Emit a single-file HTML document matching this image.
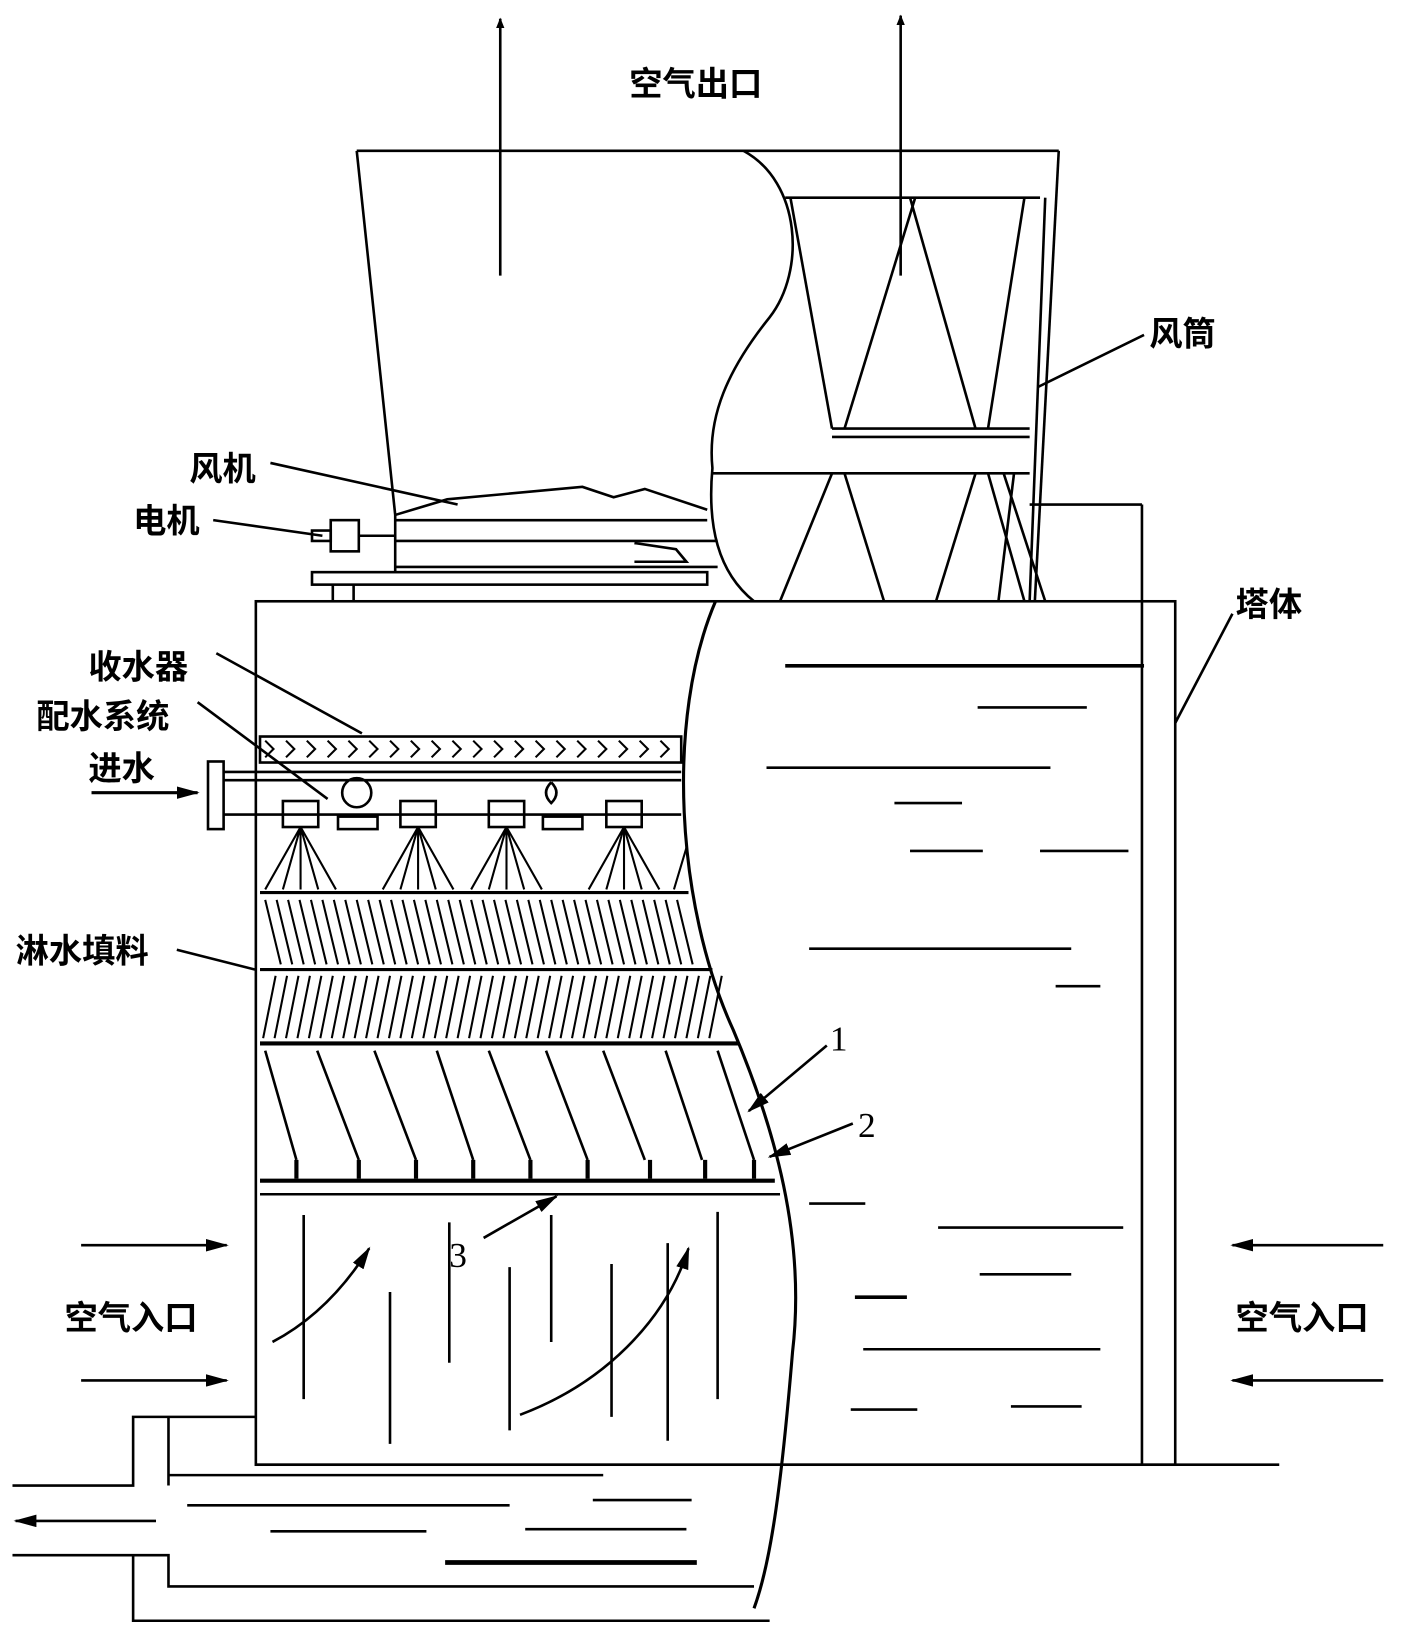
<!DOCTYPE html>
<html><head><meta charset="utf-8">
<style>
html,body{margin:0;padding:0;background:#fff;}
svg{display:block;}
text{font-family:"Liberation Sans","Noto Sans CJK SC",sans-serif;fill:#000;font-weight:bold;}
</style></head>
<body>
<svg width="1403" height="1627" viewBox="0 0 1349 1564" preserveAspectRatio="none" xmlns="http://www.w3.org/2000/svg">
<defs>
<marker id="ah" markerWidth="10" markerHeight="8" refX="9" refY="4" orient="auto" markerUnits="userSpaceOnUse"><path d="M0,0 L10,4 L0,8 Z" fill="#000"/></marker>
<marker id="ab" markerWidth="22" markerHeight="12" refX="20" refY="6" orient="auto" markerUnits="userSpaceOnUse"><path d="M0,0 L22,6 L0,12 Z" fill="#000"/></marker>
</defs>
<g stroke="#000" fill="none" stroke-width="2.5">
<line x1="481" y1="265" x2="481" y2="18" marker-end="url(#ah)"/>
<line x1="866" y1="265" x2="866" y2="15" marker-end="url(#ah)"/>
<line x1="343" y1="145" x2="1018" y2="145"/>
<line x1="343" y1="145" x2="380" y2="495"/>
<line x1="1018" y1="145" x2="995" y2="578"/>
<line x1="1005" y1="190" x2="990" y2="578"/>
<path d="M715,145 C770,175 775,260 740,305 C700,355 680,400 685,450 C680,505 690,550 725,578"/>
<line x1="755" y1="190" x2="1000" y2="190"/>
<line x1="760" y1="190" x2="800" y2="412"/>
<line x1="880" y1="190" x2="812" y2="412"/>
<line x1="875" y1="190" x2="938" y2="412"/>
<line x1="985" y1="190" x2="950" y2="412"/>
<line x1="800" y1="412" x2="990" y2="412"/>
<line x1="800" y1="420" x2="990" y2="420"/>
<line x1="685" y1="455" x2="990" y2="455"/>
<line x1="800" y1="455" x2="750" y2="578"/>
<line x1="812" y1="455" x2="850" y2="578"/>
<line x1="938" y1="455" x2="900" y2="578"/>
<line x1="950" y1="455" x2="985" y2="578"/>
<line x1="965" y1="455" x2="1005" y2="578"/>
<line x1="975" y1="455" x2="960" y2="578"/>
<path d="M380,495 L430,480 L560,468 L590,478 L620,470 L680,490"/>
<line x1="380" y1="500" x2="680" y2="500"/>
<line x1="380" y1="495" x2="380" y2="550"/>
<line x1="380" y1="520" x2="690" y2="520"/>
<line x1="380" y1="545" x2="690" y2="545"/>
<path d="M610,522 L650,528 L660,540 L610,540"/>
<rect x="300" y="550" width="380" height="12"/>
<line x1="320" y1="562" x2="320" y2="578"/>
<line x1="340" y1="562" x2="340" y2="578"/>
<rect x="318" y="500" width="27" height="30"/>
<line x1="345" y1="515" x2="380" y2="515"/>
<rect x="300" y="510" width="18" height="10"/>
<line x1="990" y1="485" x2="1098" y2="485"/>
<rect x="246" y="578" width="884" height="830"/>
<line x1="1098" y1="485" x2="1098" y2="1408"/>
<line x1="246" y1="1408" x2="1230" y2="1408"/>
<path d="M688,578 C640,690 650,870 705,990 C745,1085 775,1190 762,1300 C752,1420 742,1500 725,1546" stroke-width="3"/>
<rect x="250" y="708" width="405" height="25"/>
<path d="M255,712 l8,8 l-8,8 M275,712 l8,8 l-8,8 M295,712 l8,8 l-8,8 M315,712 l8,8 l-8,8 M335,712 l8,8 l-8,8 M355,712 l8,8 l-8,8 M375,712 l8,8 l-8,8 M395,712 l8,8 l-8,8 M415,712 l8,8 l-8,8 M435,712 l8,8 l-8,8 M455,712 l8,8 l-8,8 M475,712 l8,8 l-8,8 M495,712 l8,8 l-8,8 M515,712 l8,8 l-8,8 M535,712 l8,8 l-8,8 M555,712 l8,8 l-8,8 M575,712 l8,8 l-8,8 M595,712 l8,8 l-8,8 M615,712 l8,8 l-8,8 M635,712 l8,8 l-8,8" stroke-width="2"/>
<rect x="200" y="732" width="15" height="65"/>
<line x1="215" y1="742" x2="655" y2="742"/>
<line x1="215" y1="750" x2="655" y2="750"/>
<line x1="215" y1="783" x2="655" y2="783"/>
<line x1="88" y1="762" x2="190" y2="762" marker-end="url(#ab)" stroke-width="3"/>
<circle cx="343" cy="762" r="14"/>
<path d="M530,752 q-10,10 0,20 q10,-10 0,-20"/>
<rect x="272" y="770" width="34" height="25"/><rect x="385" y="770" width="34" height="25"/>
<rect x="470" y="770" width="34" height="25"/><rect x="583" y="770" width="34" height="25"/>
<rect x="325" y="785" width="38" height="12"/><rect x="522" y="785" width="38" height="12"/>
<g stroke-width="2">
<path d="M289,795 L255,855 M289,795 L272,855 M289,795 L289,855 M289,795 L306,855 M289,795 L323,855"/>
<path d="M402,795 L368,855 M402,795 L385,855 M402,795 L402,855 M402,795 L419,855 M402,795 L436,855"/>
<path d="M487,795 L453,855 M487,795 L470,855 M487,795 L487,855 M487,795 L504,855 M487,795 L521,855"/>
<path d="M600,795 L566,855 M600,795 L583,855 M600,795 L600,855 M600,795 L617,855 M600,795 L634,855"/>
<path d="M660,815 L648,855"/>
</g>
<line x1="250" y1="858" x2="662" y2="858" stroke-width="3"/>
<line x1="250" y1="932" x2="685" y2="932" stroke-width="3"/>
<line x1="250" y1="1003" x2="710" y2="1003" stroke-width="4"/>
<path d="M255,865 l15,62 M266,865 l15,62 M277,865 l15,62 M288,865 l15,62 M299,865 l15,62 M310,865 l15,62 M321,865 l15,62 M332,865 l15,62 M343,865 l15,62 M354,865 l15,62 M365,865 l15,62 M376,865 l15,62 M387,865 l15,62 M398,865 l15,62 M409,865 l15,62 M420,865 l15,62 M431,865 l15,62 M442,865 l15,62 M453,865 l15,62 M464,865 l15,62 M475,865 l15,62 M486,865 l15,62 M497,865 l15,62 M508,865 l15,62 M519,865 l15,62 M530,865 l15,62 M541,865 l15,62 M552,865 l15,62 M563,865 l15,62 M574,865 l15,62 M585,865 l15,62 M596,865 l15,62 M607,865 l15,62 M618,865 l15,62 M629,865 l15,62 M640,865 l15,62 M651,865 l15,62" stroke-width="2"/>
<path d="M265,938 l-12,60 M276,938 l-12,60 M287,938 l-12,60 M298,938 l-12,60 M309,938 l-12,60 M320,938 l-12,60 M331,938 l-12,60 M342,938 l-12,60 M353,938 l-12,60 M364,938 l-12,60 M375,938 l-12,60 M386,938 l-12,60 M397,938 l-12,60 M408,938 l-12,60 M419,938 l-12,60 M430,938 l-12,60 M441,938 l-12,60 M452,938 l-12,60 M463,938 l-12,60 M474,938 l-12,60 M485,938 l-12,60 M496,938 l-12,60 M507,938 l-12,60 M518,938 l-12,60 M529,938 l-12,60 M540,938 l-12,60 M551,938 l-12,60 M562,938 l-12,60 M573,938 l-12,60 M584,938 l-12,60 M595,938 l-12,60 M606,938 l-12,60 M617,938 l-12,60 M628,938 l-12,60 M639,938 l-12,60 M650,938 l-12,60 M661,938 l-12,60 M672,938 l-12,60 M683,938 l-12,60 M694,938 l-12,60" stroke-width="2"/>
<path d="M255,1010 L285,1115 M305,1010 L345,1115 M360,1010 L400,1115 M420,1010 L455,1115 M470,1010 L510,1115 M525,1010 L565,1115 M580,1010 L620,1115 M640,1010 L675,1115 M690,1010 L725,1115" stroke-width="2.5"/>
<path d="M285,1115 v18 M345,1115 v18 M400,1115 v18 M455,1115 v18 M510,1115 v18 M565,1115 v18 M625,1115 v18 M678,1115 v18 M725,1115 v18" stroke-width="4"/>
<line x1="250" y1="1135" x2="745" y2="1135" stroke-width="4"/>
<line x1="250" y1="1148" x2="750" y2="1148"/>
<line x1="795" y1="1005" x2="720" y2="1068" marker-end="url(#ab)"/>
<line x1="820" y1="1080" x2="740" y2="1112" marker-end="url(#ab)"/>
<line x1="465" y1="1190" x2="535" y2="1150" marker-end="url(#ab)"/>
<line x1="998" y1="372" x2="1100" y2="322"/>
<line x1="1130" y1="695" x2="1185" y2="590"/>
<line x1="260" y1="445" x2="440" y2="485"/>
<line x1="205" y1="500" x2="310" y2="515"/>
<line x1="208" y1="628" x2="348" y2="705"/>
<line x1="190" y1="675" x2="315" y2="768"/>
<line x1="170" y1="913" x2="245" y2="932"/>
<path d="M292,1168 V1345 M375,1242 V1388 M432,1175 V1310 M490,1218 V1375 M530,1168 V1290 M588,1215 V1362 M642,1195 V1385 M690,1165 V1345" stroke-width="2.5"/>
<path d="M262,1290 C300,1270 330,1240 355,1200" marker-end="url(#ab)"/>
<path d="M500,1360 C580,1330 640,1270 662,1200" marker-end="url(#ab)"/>
<line x1="78" y1="1197" x2="218" y2="1197" marker-end="url(#ab)"/>
<line x1="78" y1="1327" x2="218" y2="1327" marker-end="url(#ab)"/>
<line x1="1330" y1="1197" x2="1185" y2="1197" marker-end="url(#ab)"/>
<line x1="1330" y1="1327" x2="1185" y2="1327" marker-end="url(#ab)"/>
<path d="M755,640 H1100" stroke-width="3.5"/>
<path d="M940,680 H1045 M737,738 H1010 M860,772 H925 M875,818 H945 M1000,818 H1085 M778,912 H1030 M1015,948 H1058 M778,1157 H832 M902,1180 H1080 M942,1225 H1030 M830,1297 H1058 M818,1355 H882 M972,1352 H1040"/>
<path d="M822,1247 H872" stroke-width="3.5"/>
<path d="M246,1362 H128 V1428 H12"/>
<line x1="162" y1="1362" x2="162" y2="1428"/>
<line x1="162" y1="1418" x2="580" y2="1418"/>
<path d="M12,1495 H162 V1525 H725"/>
<path d="M128,1495 V1558 H740"/>
<path d="M180,1447 H490 M570,1442 H665 M260,1472 H410 M505,1470 H660"/>
<path d="M428,1502 H670" stroke-width="4.5"/>
<line x1="150" y1="1462" x2="15" y2="1462" marker-end="url(#ab)"/>
</g>
<g font-size="32">
<text x="605" y="92">空气出口</text>
<text x="1105" y="332">风筒</text>
<text x="1188" y="592">塔体</text>
<text x="182" y="462">风机</text>
<text x="128" y="512">电机</text>
<text x="85" y="652">收水器</text>
<text x="35" y="700">配水系统</text>
<text x="85" y="750">进水</text>
<text x="15" y="925">淋水填料</text>
<text x="62" y="1278">空气入口</text>
<text x="1188" y="1278">空气入口</text>
</g>
<g font-size="34">
<text x="798" y="1010" style="font-family:'Liberation Serif',serif;font-weight:normal">1</text>
<text x="825" y="1093" style="font-family:'Liberation Serif',serif;font-weight:normal">2</text>
<text x="432" y="1218" style="font-family:'Liberation Serif',serif;font-weight:normal">3</text>
</g>
</svg>
</body></html>
